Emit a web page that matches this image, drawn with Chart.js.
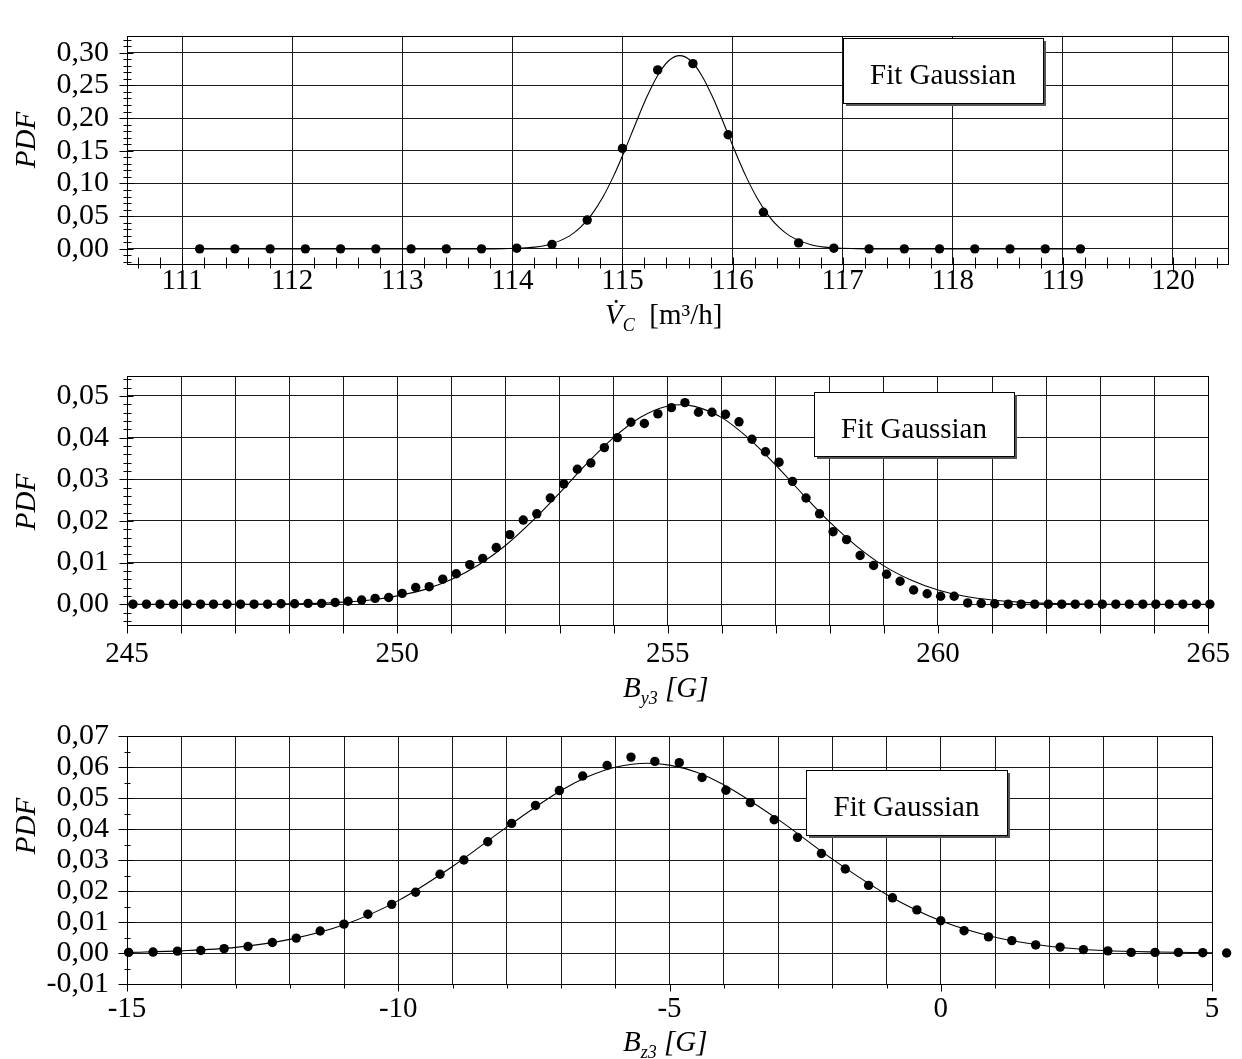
<!DOCTYPE html>
<html>
<head>
<meta charset="utf-8">
<script src="https://cdn.jsdelivr.net/npm/chart.js@4.4.1/dist/chart.umd.min.js"></script>
<style>
  html, body { margin:0; padding:0; background:#fff; }
  body { width:1242px; height:1059px; position:relative; overflow:hidden; }
  .panel { position:absolute; left:0; width:1242px; }
  .panel canvas { display:block; }
</style>
</head>
<body>
<div class="panel" id="p1"><canvas id="vcChart"></canvas></div>
<div class="panel" id="p2"><canvas id="by3Chart"></canvas></div>
<div class="panel" id="p3"><canvas id="bz3Chart"></canvas></div>
<script>
// PDF histograms with gaussian fits (three stacked panels)
var FAMILY = "'Liberation Serif', 'Times New Roman', serif";

// ---- panel 1: V_C [m3/h] ----
var vcX = [111.16, 111.48, 111.80, 112.12, 112.44, 112.76, 113.08, 113.40, 113.72, 114.04, 114.36, 114.68, 115.00,
           115.32, 115.64, 115.96, 116.28, 116.60, 116.92, 117.24, 117.56, 117.88, 118.20, 118.52, 118.84, 119.16];
var vcPdf = [0, 0, 0, 0, 0, 0, 0, 0, 0, 0.001, 0.0068, 0.044, 0.1536,
             0.2736, 0.2832, 0.1745, 0.0559, 0.0091, 0.001, 0, 0, 0, 0, 0, 0, 0];
var vcFitX = [111.16, 113.70, 113.92, 114.12, 114.32, 114.52, 114.62, 114.72, 114.82, 114.92, 115.02, 115.12, 115.22,
              115.32, 115.42, 115.52, 115.62, 115.72, 115.82, 115.92, 116.02, 116.12, 116.22, 116.32, 116.42, 116.52,
              116.72, 116.92, 117.12, 117.34, 119.16];
var vcFitPdf = [0, 0, 0.0003, 0.0015, 0.0060, 0.0198, 0.0331, 0.0524, 0.0786, 0.1116, 0.1503, 0.1917, 0.2317,
                0.2652, 0.2876, 0.2955, 0.2876, 0.2652, 0.2317, 0.1917, 0.1503, 0.1116, 0.0786, 0.0524, 0.0331, 0.0198,
                0.0060, 0.0015, 0.0003, 0, 0];
var vcTicksX = [111, 112, 113, 114, 115, 116, 117, 118, 119, 120];
var vcLabelsX = ['111', '112', '113', '114', '115', '116', '117', '118', '119', '120'];
var vcTicksY = [0, 0.05, 0.10, 0.15, 0.20, 0.25, 0.30];
var vcLabelsY = ['0,00', '0,05', '0,10', '0,15', '0,20', '0,25', '0,30'];

// ---- panel 2: B_y3 [G] ----
var by3X = [245.11, 245.36, 245.61, 245.86, 246.11, 246.36, 246.60, 246.85, 247.10, 247.35, 247.60, 247.85,
            248.10, 248.35, 248.60, 248.85, 249.09, 249.34, 249.59, 249.84, 250.09, 250.34, 250.59, 250.84,
            251.09, 251.34, 251.58, 251.83, 252.08, 252.33, 252.58, 252.83, 253.08, 253.33, 253.58, 253.83,
            254.07, 254.32, 254.57, 254.82, 255.07, 255.32, 255.57, 255.82, 256.07, 256.32, 256.56, 256.81,
            257.06, 257.31, 257.56, 257.81, 258.06, 258.31, 258.56, 258.81, 259.05, 259.30, 259.55, 259.80,
            260.05, 260.30, 260.55, 260.80, 261.05, 261.30, 261.54, 261.79, 262.04, 262.29, 262.54, 262.79,
            263.04, 263.29, 263.54, 263.79, 264.03, 264.28, 264.53, 264.78, 265.03];
var by3Pdf = [0, 0, 0, 0, 0, 0, 0, 0, 0, 0, 0, 0.0001,
              0.0001, 0.0002, 0.0002, 0.0004, 0.0007, 0.0010, 0.0014, 0.0016, 0.0026, 0.0040, 0.0042, 0.0060,
              0.0073, 0.0095, 0.0110, 0.0136, 0.0167, 0.0202, 0.0217, 0.0255, 0.0289, 0.0324, 0.0339, 0.0376,
              0.0400, 0.0437, 0.0434, 0.0457, 0.0472, 0.0484, 0.0461, 0.0461, 0.0456, 0.0438, 0.0396, 0.0366,
              0.0341, 0.0295, 0.0255, 0.0217, 0.0174, 0.0155, 0.0117, 0.0093, 0.0072, 0.0055, 0.0034, 0.0025,
              0.0019, 0.0019, 0.0003, 0.0002, 0.0001, 0, 0, 0, 0, 0, 0, 0,
              0, 0, 0, 0, 0, 0, 0, 0, 0];
var by3FitX = [245, 246, 247, 248, 248.5, 249, 249.5, 250, 250.5, 251, 251.5, 252, 252.5, 253, 253.5, 254, 254.5,
               255, 255.24, 255.5, 256, 256.5, 257, 257.5, 258, 258.5, 259, 259.5, 260, 260.5, 261, 261.5, 262,
               263, 264, 265];
var by3FitPdf = [0, 0, 0, 0.0001, 0.0002, 0.0005, 0.0010, 0.0020, 0.0035, 0.0059, 0.0094, 0.0141, 0.0200, 0.0267,
                 0.0337, 0.0400, 0.0449, 0.0476, 0.0479, 0.0475, 0.0448, 0.0398, 0.0334, 0.0264, 0.0197, 0.0139,
                 0.0092, 0.0058, 0.0034, 0.0019, 0.0010, 0.0005, 0.0002, 0, 0, 0];
var by3TicksX = [245, 246, 247, 248, 249, 250, 251, 252, 253, 254, 255, 256, 257, 258, 259, 260, 261, 262, 263, 264, 265];
var by3LabelsX = ['245', '', '', '', '', '250', '', '', '', '', '255', '', '', '', '', '260', '', '', '', '', '265'];
var by3TicksY = [0, 0.01, 0.02, 0.03, 0.04, 0.05];
var by3LabelsY = ['0,00', '0,01', '0,02', '0,03', '0,04', '0,05'];

// ---- panel 3: B_z3 [G] ----
var bz3X = [-14.97, -14.52, -14.07, -13.64, -13.21, -12.77, -12.32, -11.88, -11.44, -11.00, -10.56, -10.12,
            -9.68, -9.23, -8.79, -8.35, -7.91, -7.47, -7.03, -6.60, -6.15, -5.71, -5.27, -4.82, -4.40, -3.96,
            -3.51, -3.07, -2.64, -2.20, -1.76, -1.33, -0.89, -0.44, 0.00, 0.43, 0.88, 1.31, 1.75, 2.20, 2.63,
            3.08, 3.51, 3.95, 4.38, 4.83, 5.27];
var bz3Pdf = [0.0002, 0.0003, 0.0006, 0.0008, 0.0014, 0.0021, 0.0034, 0.0048, 0.0071, 0.0093, 0.0125, 0.0157,
              0.0196, 0.0254, 0.0300, 0.0359, 0.0418, 0.0476, 0.0524, 0.0571, 0.0605, 0.0632, 0.0618, 0.0614,
              0.0566, 0.0525, 0.0485, 0.0430, 0.0373, 0.0321, 0.0271, 0.0218, 0.0178, 0.0139, 0.0104, 0.0072,
              0.0052, 0.0040, 0.0026, 0.0019, 0.0011, 0.0007, 0.0002, 0.0002, 0.0002, 0.0001, 0];
var bz3FitX = [-15, -14, -13, -12, -11, -10, -9, -8, -7, -6.5, -6, -5.4, -5, -4.5, -4, -3, -2, -1, 0, 1, 2, 3, 4, 5];
var bz3FitPdf = [0.0002, 0.0007, 0.0018, 0.0044, 0.0091, 0.0169, 0.0279, 0.0406, 0.0524, 0.0569, 0.0599, 0.0612,
                 0.0606, 0.0583, 0.0543, 0.0431, 0.0303, 0.0189, 0.0104, 0.0051, 0.0022, 0.0008, 0.0003, 0.0001];
var bz3TicksX = [-15, -14, -13, -12, -11, -10, -9, -8, -7, -6, -5, -4, -3, -2, -1, 0, 1, 2, 3, 4, 5];
var bz3LabelsX = ['-15', '', '', '', '', '-10', '', '', '', '', '-5', '', '', '', '', '0', '', '', '', '', '5'];
var bz3TicksY = [-0.01, 0, 0.01, 0.02, 0.03, 0.04, 0.05, 0.06, 0.07];
var bz3LabelsY = ['-0,01', '0,00', '0,01', '0,02', '0,03', '0,04', '0,05', '0,06', '0,07'];

var legendText = 'Fit Gaussian';

function zip(xs, ys){ return xs.map(function(x, i){ return {x: x, y: ys[i]}; }); }
function labelFor(vals, labels){ return function(v){ var i = vals.indexOf(v); return i < 0 ? '' : labels[i]; }; }

// text runs: italic / subscript pieces drawn side by side
function drawRuns(ctx, x, y, runs, size){
  ctx.textAlign = 'left'; ctx.textBaseline = 'alphabetic';
  runs.forEach(function(r){
    var fs = r.sub ? Math.round(size * 0.62) : size;
    ctx.font = (r.it ? 'italic ' : '') + fs + 'px ' + FAMILY;
    ctx.fillText(r.t, x, y + (r.sub ? size * 0.24 : 0));
    x += ctx.measureText(r.t).width;
  });
}

function makeDecor(p){
  return {
    id: 'decor',
    afterDatasetsDraw: function(chart){
      // Chart.js culls points outside the chart area; the reference shows the last bin past the axis end,
      // so paint those from the positions the scatter controller already computed.
      var ctx = chart.ctx, a = chart.chartArea, meta = chart.getDatasetMeta(0);
      ctx.save();
      ctx.fillStyle = '#000';
      meta.data.forEach(function(el){
        if (el.x > a.right + 2 || el.x < a.left - 2) {
          ctx.beginPath(); ctx.arc(el.x, el.y, el.options.radius, 0, Math.PI * 2); ctx.fill();
        }
      });
      ctx.restore();
    },
    afterDraw: function(chart){
      var ctx = chart.ctx, a = chart.chartArea, xs = chart.scales.x, ys = chart.scales.y;
      var off = p.top;
      ctx.save();
      ctx.strokeStyle = '#000'; ctx.fillStyle = '#000'; ctx.lineWidth = 1;
      // frame
      ctx.strokeRect(Math.round(a.left) + 0.5, Math.round(a.top) + 0.5, Math.round(a.right - a.left), Math.round(a.bottom - a.top));
      ctx.beginPath();
      var L = Math.round(a.left) + 0.5, B = Math.round(a.bottom) + 0.5;
      // y axis ticks (minor + major)
      var n = Math.round((ys.max - p.yMinorStart) / p.yMinor);
      for (var k = 0; k <= n; k++) {
        var v = p.yMinorStart + k * p.yMinor;
        if (v > ys.max + 1e-9) break;
        var py = Math.round(ys.getPixelForValue(v)) + 0.5;
        var major = p.ticksY.some(function(t){ return Math.abs(t - v) < 1e-9; });
        var t = major ? p.yTickMajor : p.yTickMinor;
        ctx.moveTo(L - t[0], py); ctx.lineTo(L + t[1], py);
      }
      // x axis ticks
      if (p.xMinor) {
        var m = Math.round((xs.max - p.xMinorStart) / p.xMinor);
        for (var j = 0; j <= m; j++) {
          var xv = p.xMinorStart + j * p.xMinor;
          if (xv > xs.max - 1e-9) break;
          var px = Math.round(xs.getPixelForValue(xv)) + 0.5;
          ctx.moveTo(px, B - p.xTickMinor[0]); ctx.lineTo(px, B + p.xTickMinor[1]);
        }
      }
      p.ticksX.forEach(function(v, i){
        var px = Math.round(xs.getPixelForValue(v)) + 0.5;
        var len = p.labelsX[i] ? p.xTickLabeled : p.xTickPlain;
        ctx.moveTo(px, B); ctx.lineTo(px, B + len);
      });
      ctx.stroke();

      // y title
      ctx.save();
      ctx.translate(27, p.pdfY - off);
      ctx.rotate(-Math.PI / 2);
      ctx.font = 'italic 29px ' + FAMILY;
      ctx.textAlign = 'center'; ctx.textBaseline = 'middle';
      ctx.fillText('PDF', 0, 0);
      ctx.restore();

      // x title
      drawRuns(ctx, p.titleX, p.titleY - off, p.titleRuns, 29);

      // legend box
      var b = p.box, bt = b.t - off, bb = b.b - off;
      ctx.fillStyle = '#fff';
      ctx.fillRect(b.l, bt, b.r - b.l, bb - bt);
      ctx.strokeStyle = '#000';
      ctx.strokeRect(b.l + 0.5, bt + 0.5, b.r - b.l, bb - bt);
      ctx.strokeStyle = '#555'; ctx.lineWidth = 2;
      ctx.beginPath();
      ctx.moveTo(b.r + 2, bt + 3); ctx.lineTo(b.r + 2, bb + 2); ctx.lineTo(b.l + 3, bb + 2);
      ctx.stroke();
      ctx.fillStyle = '#000';
      ctx.font = '29px ' + FAMILY;
      ctx.textAlign = 'center'; ctx.textBaseline = 'alphabetic';
      ctx.fillText(legendText, (b.l + b.r) / 2, bt + 46);
      ctx.restore();
    }
  };
}

function makeChart(id, p){
  var cv = document.getElementById(id);
  cv.width = 1242; cv.height = p.height;
  cv.parentNode.style.top = p.top + 'px';
  cv.parentNode.style.height = p.height + 'px';
  var xH = p.height - (p.area.b - p.top);
  return new Chart(cv, {
    type: 'scatter',
    data: {
      datasets: [
        { data: zip(p.x, p.y), showLine: false, pointRadius: 4.7, pointBackgroundColor: '#000',
          pointBorderWidth: 0, clip: false },
        { data: zip(p.fitX, p.fitY), showLine: true, borderColor: '#000', borderWidth: 1.1,
          pointRadius: 0, cubicInterpolationMode: 'monotone', fill: false, clip: false }
      ]
    },
    options: {
      responsive: false, animation: false, events: [],
      layout: { padding: { top: p.area.t - p.top, right: 1242 - p.area.r, left: 0, bottom: 0 } },
      plugins: { legend: { display: false }, tooltip: { enabled: false } },
      scales: {
        x: {
          type: 'linear', min: p.xMin, max: p.xMax,
          afterBuildTicks: function(s){ s.ticks = p.ticksX.map(function(v){ return {value: v}; }); },
          afterFit: function(s){ s.height = xH; },
          grid: { color: '#1a1a1a', lineWidth: 1, drawTicks: false },
          border: { color: '#000', width: 1 },
          ticks: { autoSkip: false, maxRotation: 0, minRotation: 0, padding: p.xPad, color: '#000',
                   font: { family: FAMILY, size: 29 }, callback: labelFor(p.ticksX, p.labelsX) }
        },
        y: {
          type: 'linear', min: p.yMin, max: p.yMax,
          afterBuildTicks: function(s){ s.ticks = p.ticksY.map(function(v){ return {value: v}; }); },
          afterFit: function(s){ s.width = p.area.l; },
          grid: { color: '#1a1a1a', lineWidth: 1, drawTicks: false },
          border: { color: '#000', width: 1 },
          ticks: { autoSkip: false, padding: 18, color: '#000',
                   font: { family: FAMILY, size: 30 }, callback: labelFor(p.ticksY, p.labelsY) }
        }
      }
    },
    plugins: [makeDecor(p)]
  });
}

makeChart('vcChart', {
  top: 0, height: 340, area: { l: 127, t: 8, r: 1228, b: 264 },
  x: vcX, y: vcPdf, fitX: vcFitX, fitY: vcFitPdf,
  xMin: 110.5, xMax: 120.5, yMin: -0.0232, yMax: 0.3255,
  ticksX: vcTicksX, labelsX: vcLabelsX, ticksY: vcTicksY, labelsY: vcLabelsY,
  xPad: 0, yMinor: 0.01, yMinorStart: -0.02, yTickMajor: [8, 6], yTickMinor: [4, 4],
  xMinor: 0.2, xMinorStart: 110.6, xTickMinor: [7, 4], xTickLabeled: 8, xTickPlain: 8,
  pdfY: 140, titleX: 605, titleY: 324,
  titleRuns: [{ t: 'V\u0307', it: true }, { t: 'C', it: true, sub: true }, { t: '  [m\u00b3/h]' }],
  box: { l: 843, t: 38, r: 1043, b: 103 }
});

makeChart('by3Chart', {
  top: 340, height: 375, area: { l: 127, t: 363, r: 1217, b: 625 },
  x: by3X, y: by3Pdf, fitX: by3FitX, fitY: by3FitPdf,
  xMin: 245, xMax: 265, yMin: -0.005, yMax: 0.0548,
  ticksX: by3TicksX, labelsX: by3LabelsX, ticksY: by3TicksY, labelsY: by3LabelsY,
  xPad: 12, yMinor: 0.002, yMinorStart: -0.004, yTickMajor: [8, 6], yTickMinor: [4, 4],
  xMinor: 0, xTickLabeled: 8, xTickPlain: 8,
  pdfY: 502, titleX: 623, titleY: 697,
  titleRuns: [{ t: 'B', it: true }, { t: 'y3', it: true, sub: true }, { t: ' [G]', it: true }],
  box: { l: 814, t: 392, r: 1014, b: 456 }
});

makeChart('bz3Chart', {
  top: 700, height: 359, area: { l: 127, t: 723, r: 1212, b: 984 },
  x: bz3X, y: bz3Pdf, fitX: bz3FitX, fitY: bz3FitPdf,
  xMin: -15, xMax: 5, yMin: -0.01, yMax: 0.07,
  ticksX: bz3TicksX, labelsX: bz3LabelsX, ticksY: bz3TicksY, labelsY: bz3LabelsY,
  xPad: 8, yMinor: 0.005, yMinorStart: -0.01, yTickMajor: [9, 6], yTickMinor: [3, 3],
  xMinor: 0, xTickLabeled: 7, xTickPlain: 4,
  pdfY: 826, titleX: 623, titleY: 1051,
  titleRuns: [{ t: 'B', it: true }, { t: 'z3', it: true, sub: true }, { t: ' [G]', it: true }],
  box: { l: 806, t: 770, r: 1007, b: 835 }
});
</script>
</body>
</html>
